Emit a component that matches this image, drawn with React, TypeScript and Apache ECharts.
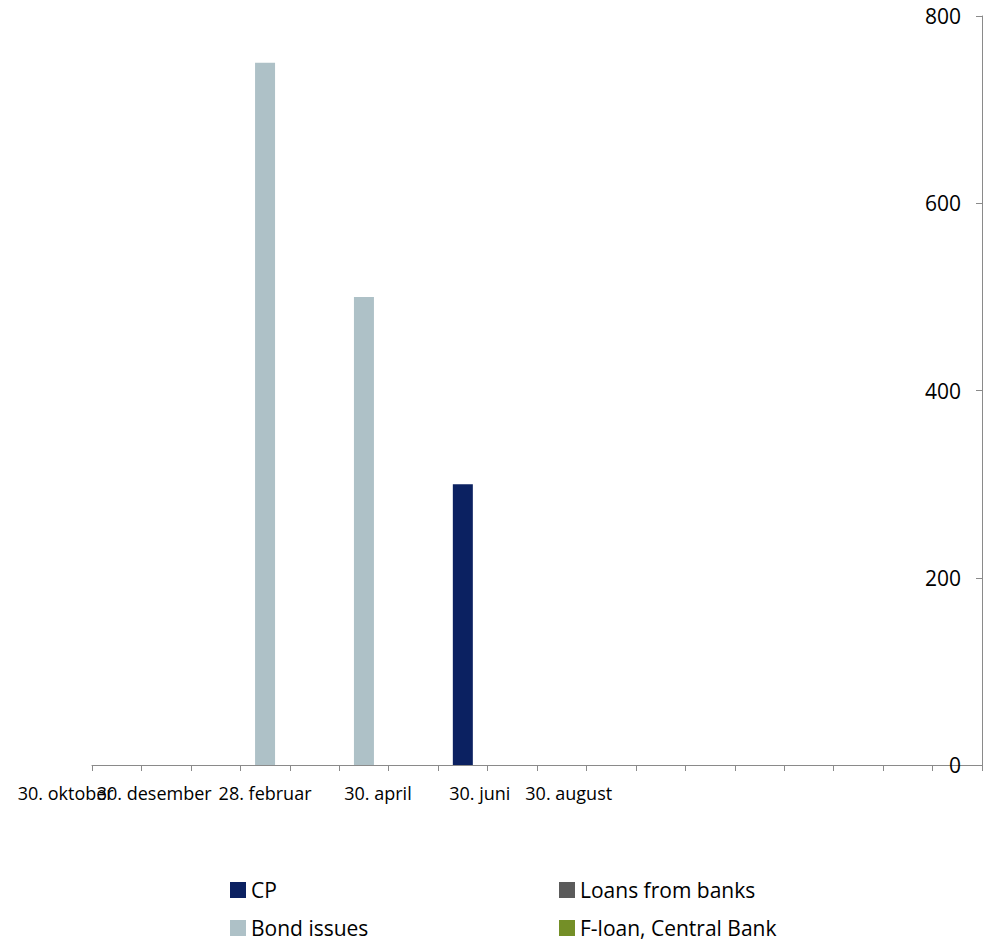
import React, { useEffect, useRef } from "react";
import * as echarts from "echarts";

// Period labels along the x axis (blank slots are unlabeled periods)
const categories: string[] = [
  "30. oktober", "30. desember", "", "28. februar", "", "30. april", "", "30. juni", "",
  "30. august", "", "", "", "", "", "", "", "",
];

// Maturities per period (NOK million)
const cpValues: number[] = [0, 0, 0, 0, 0, 0, 0, 300, 0, 0, 0, 0, 0, 0, 0, 0, 0, 0];
const loansValues: number[] = [0, 0, 0, 0, 0, 0, 0, 0, 0, 0, 0, 0, 0, 0, 0, 0, 0, 0];
const bondValues: number[] = [0, 0, 0, 750, 0, 500, 0, 0, 0, 0, 0, 0, 0, 0, 0, 0, 0, 0];
const fLoanValues: number[] = [0, 0, 0, 0, 0, 0, 0, 0, 0, 0, 0, 0, 0, 0, 0, 0, 0, 0];

const seriesNames = ["CP", "Loans from banks", "Bond issues", "F-loan, Central Bank"];
const yTicks = { min: 0, max: 800, interval: 200 };

const COLORS: Record<string, string> = {
  CP: "#0b2161",
  "Loans from banks": "#5b5b5b",
  "Bond issues": "#aec1c7",
  "F-loan, Central Bank": "#748f27",
};

// horizontal nudge (px) of individual category labels
const LABEL_SHIFT: Record<number, number> = { 0: -51, 1: -12, 3: 0, 5: 14, 7: 17, 9: 7 };

const AXIS_GRAY = "#8a8a8a";
const FONT = "'Open Sans', sans-serif";

export default function App() {
  const ref = useRef<HTMLDivElement>(null);

  useEffect(() => {
    if (!ref.current) return;
    const chart = echarts.init(ref.current, undefined, { renderer: "svg" });

    const valuesByName: Record<string, number[]> = {
      CP: cpValues,
      "Loans from banks": loansValues,
      "Bond issues": bondValues,
      "F-loan, Central Bank": fLoanValues,
    };

    const xData = categories.map((c, i) => {
      const s = LABEL_SHIFT[i] || 0;
      return {
        value: c,
        textStyle: {
          padding: s >= 0 ? [0, 0, 0, 2 * s] : [0, -2 * s, 0, 0],
        },
      };
    });

    const legendBase = {
      orient: "vertical",
      top: 879,
      height: 64,
      padding: 0,
      itemWidth: 16,
      itemHeight: 16,
      itemGap: 16,
      icon: "rect",
      textStyle: { fontSize: 21, color: "#000", fontFamily: FONT, lineHeight: 22 },
      selectedMode: false,
    };

    chart.setOption({
      animation: false,
      textStyle: { fontFamily: FONT },
      grid: { left: 92, right: 8, top: 16, bottom: 178, containLabel: false },
      legend: [
        { ...legendBase, data: ["CP", "Bond issues"], left: 230 },
        { ...legendBase, data: ["Loans from banks", "F-loan, Central Bank"], left: 559 },
      ],
      xAxis: {
        type: "category",
        data: xData,
        boundaryGap: true,
        axisLine: { show: true, lineStyle: { color: AXIS_GRAY, width: 1 } },
        axisTick: { show: true, length: 6, lineStyle: { color: AXIS_GRAY } },
        axisLabel: {
          interval: 0,
          margin: 19,
          fontSize: 18,
          color: "#000",
          fontFamily: FONT,
        },
        splitLine: { show: false },
      },
      yAxis: {
        type: "value",
        position: "right",
        min: yTicks.min,
        max: yTicks.max,
        interval: yTicks.interval,
        axisLine: { show: true, lineStyle: { color: AXIS_GRAY, width: 1 } },
        axisTick: { show: true, inside: true, length: 6, lineStyle: { color: AXIS_GRAY } },
        axisLabel: { inside: true, margin: 21, fontSize: 21, color: "#000", fontFamily: FONT },
        splitLine: { show: false },
      },
      series: seriesNames.map((name) => ({
        name,
        type: "bar",
        stack: "total",
        barWidth: 20,
        data: valuesByName[name],
        itemStyle: { color: COLORS[name] },
      })),
    });

    return () => chart.dispose();
  }, []);

  return (
    <div
      ref={ref}
      style={{ position: "fixed", left: 0, top: 0, width: 990, height: 943, background: "#fff" }}
    />
  );
}
